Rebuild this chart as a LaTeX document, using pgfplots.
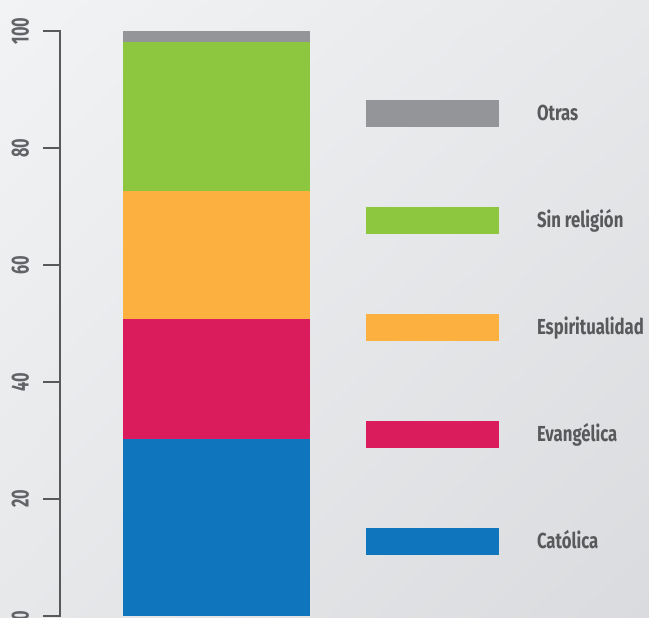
\documentclass[border=0pt]{standalone}
\usepackage{pgfplots}
\pgfplotsset{compat=1.18}
\usetikzlibrary{shadings}
\usepackage{fontspec}
\setmainfont{Fira Sans}
\newfontfamily\legfont{Fira Sans}[FakeStretch=0.77]
\newfontfamily\tickfont{Fira Sans}[FakeStretch=0.66]
\definecolor{cOtras}{HTML}{939598}
\definecolor{cSin}{HTML}{8DC63F}
\definecolor{cEsp}{HTML}{FBB040}
\definecolor{cEva}{HTML}{DA1C5C}
\definecolor{cCat}{HTML}{0F75BC}
\definecolor{axgray}{HTML}{58595B}
\definecolor{tickgray}{HTML}{626366}
\definecolor{legtext}{HTML}{58595B}
\definecolor{bgA}{HTML}{F2F3F5}
\definecolor{bgB}{HTML}{E7E8EA}
\definecolor{bgC}{HTML}{DADBDE}
\begin{document}
\begin{tikzpicture}
\shade[upper left=bgA, upper right=bgB, lower left=bgB, lower right=bgC] (0,0) rectangle (486.75pt,462.75pt);
\begin{axis}[
  at={(45pt,0.75pt)}, anchor=south west,
  scale only axis, width=441.75pt, height=438.75pt,
  xmin=60, xmax=649, ymin=0, ymax=100,
  enlargelimits=false, clip=false,
  axis lines*=left,
  x axis line style={draw=none},
  y axis line style={line width=1.6pt, draw=axgray, -},
  ytick={0,20,40,60,80,100}, xtick=\empty,
  tick align=outside, major tick length=12.5pt,
  ytick style={line width=1.6pt, draw=axgray},
  /pgf/number format/assume math mode=true,
  yticklabel shift=10.5pt,
  yticklabel style={overlay, rotate=90, anchor=south, inner sep=0pt,
    font=\tickfont\bfseries\fontsize{18.5}{18.5}\selectfont, text=tickgray},
  ybar stacked, bar width=140.25pt,
  legend cell align=left, reverse legend,
  legend style={at={(axis cs:366,88.2)}, anchor=north west, draw=none, fill=none,
    inner sep=0pt, outer sep=0pt, row sep=60pt, column sep=28.5pt,
    cells={anchor=base west},
    nodes={inner sep=0pt, text height=12pt, text depth=2pt},
    font=\legfont\bfseries\fontsize{16.3}{16.3}\selectfont, text=legtext},
  legend image code/.code={\fill[#1] (0pt,-5.2pt) rectangle (99.75pt,15.05pt);},
]
\addplot[fill=cCat, draw=none] coordinates {(216.5,30.3)};
\addlegendentry{Católica}
\addplot[fill=cEva, draw=none] coordinates {(216.5,20.5)};
\addlegendentry{Evangélica}
\addplot[fill=cEsp, draw=none] coordinates {(216.5,21.8)};
\addlegendentry{Espiritualidad}
\addplot[fill=cSin, draw=none] coordinates {(216.5,25.6)};
\addlegendentry{Sin religión}
\addplot[fill=cOtras, draw=none] coordinates {(216.5,1.8)};
\addlegendentry{Otras}
\draw[axgray, line width=1.6pt] (axis cs:60,0) -- (axis cs:60,100);
\pgfplotsinvokeforeach{0,20,40,60,80,100}{
  \draw[axgray, line width=1.6pt] (axis cs:60.5,#1) -- ++(-13pt,0pt);
}
\end{axis}
\end{tikzpicture}
\end{document}
